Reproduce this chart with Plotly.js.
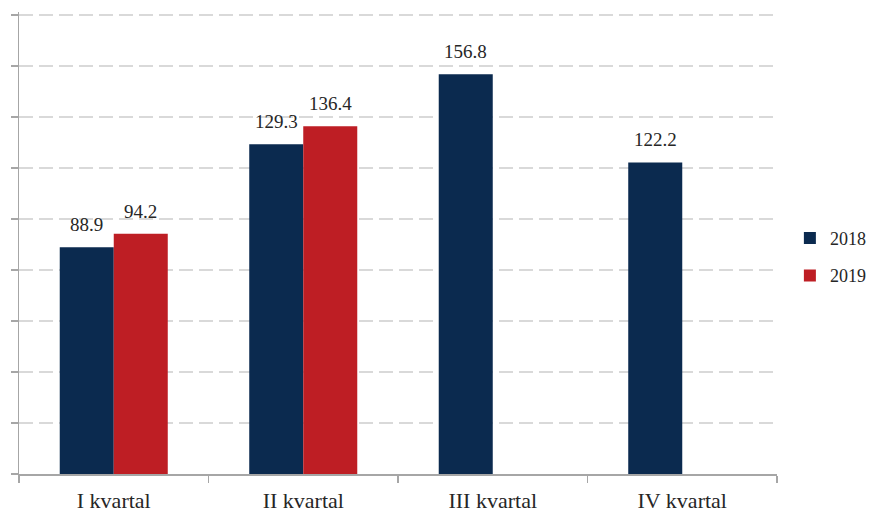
<!DOCTYPE html>
<html>
<head>
<meta charset="utf-8">
<script src="https://cdn.plot.ly/plotly-3.0.1.min.js"></script>
<style>html,body{margin:0;padding:0;background:#fff;}#chart{width:870px;height:512px;}</style>
</head>
<body>
<div id="chart"></div>
<script>
const categories = ["I kvartal", "II kvartal", "III kvartal", "IV kvartal"];
const values2018 = [88.9, 129.3, 156.8, 122.2];
const values2019 = [94.2, 136.4, null, null];
const seriesNames = ["2018", "2019"];

const fontFam = 'Times New Roman';
const fmt = v => v.toFixed(1);

const traces = [
  {type: "bar", name: seriesNames[0], x: categories, y: values2018,
   marker: {color: "#0B2A4F"}, legendgroup: "a", hoverinfo: "none"},
  {type: "bar", name: seriesNames[1], x: categories, y: values2019,
   marker: {color: "#BE1E24"}, legendgroup: "b", hoverinfo: "none"}
];

// value labels placed at each bar top through the data axes
const plotW = 870 - 19 - 93, bargap = 0.43;
const halfBar = (plotW / categories.length) * (1 - bargap) / 4;
const annotations = [];
[[values2018, -halfBar], [values2019, halfBar]].forEach(([vals, shift]) => {
  vals.forEach((v, i) => {
    if (v == null) return;
    annotations.push({x: categories[i], y: v, xref: "x", yref: "y", text: fmt(v),
      showarrow: false, xshift: shift, yshift: 10, yanchor: "bottom",
      font: {family: fontFam, size: 19, color: "#262626"}});
  });
});

const layout = {
  width: 870, height: 512,
  margin: {l: 19, r: 93, t: 12, b: 38, autoexpand: false},
  paper_bgcolor: "#fff", plot_bgcolor: "#fff",
  barmode: "group", bargap: bargap, bargroupgap: 0,
  font: {family: fontFam, size: 19, color: "#262626"},
  showlegend: true,
  annotations: annotations,
  legend: {x: 1.017, y: 0.47, xanchor: "left", yanchor: "middle",
           font: {family: fontFam, size: 18, color: "#262626"},
           tracegroupgap: 11, itemwidth: 30},
  xaxis: {type: "category", showline: true, linecolor: "#a6a6a6", linewidth: 1.5,
          ticks: "outside", tickson: "boundaries", ticklen: 7, tickcolor: "#a6a6a6",
          tickwidth: 1.2, showgrid: false, ticklabelstandoff: 6,
          tickfont: {family: fontFam, size: 22, color: "#262626"}},
  yaxis: {range: [0, 181.2], dtick: 20, tick0: 0, showline: true, linecolor: "#a6a6a6", linewidth: 1.5,
          ticks: "outside", ticklen: 7, tickcolor: "#a6a6a6", tickwidth: 1.2,
          showticklabels: false, showgrid: true, gridcolor: "#d9d9d9", gridwidth: 2,
          griddash: "14px,6px", zeroline: false}
};

Plotly.newPlot("chart", traces, layout, {staticPlot: true});
</script>
</body>
</html>
